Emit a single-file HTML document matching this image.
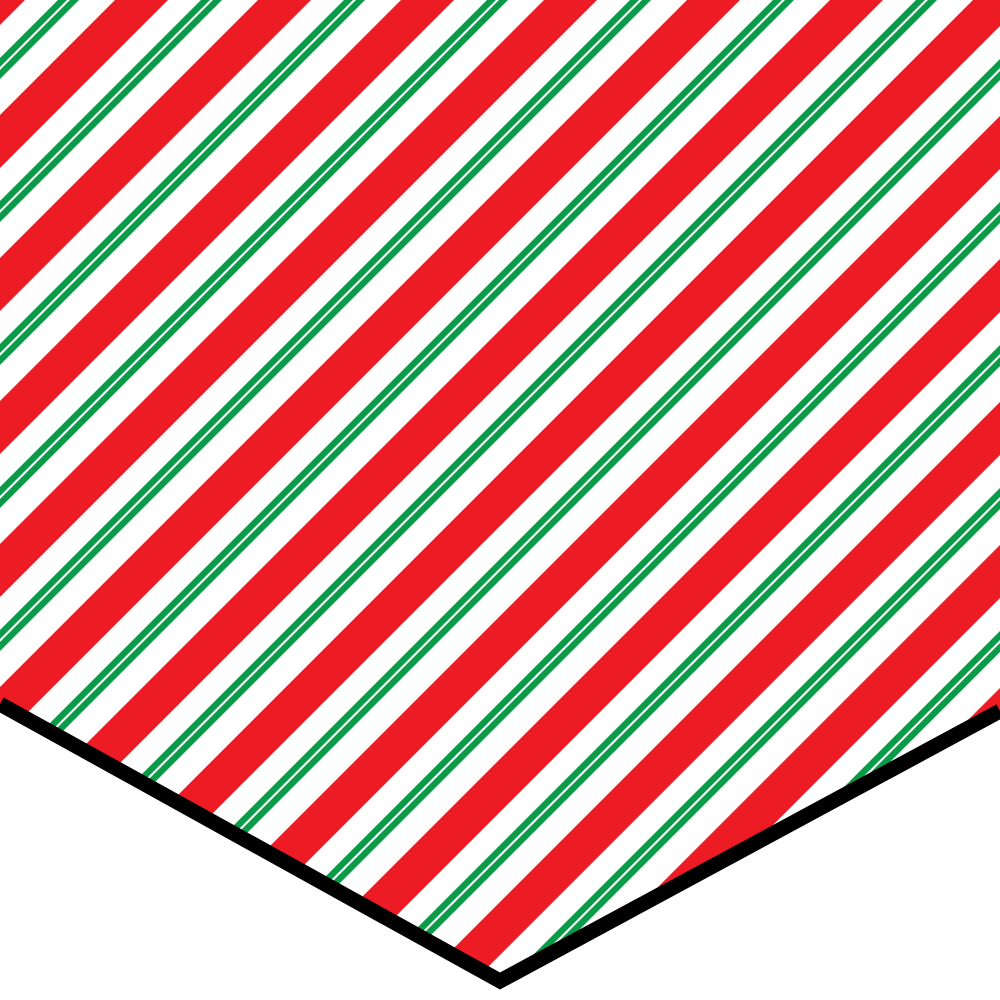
<!DOCTYPE html>
<html><head><meta charset="utf-8"><style>html,body{margin:0;padding:0;background:#fff}svg{display:block}</style></head>
<body>
<svg id="s" width="1000" height="1000" viewBox="0 0 1000 1000" xmlns="http://www.w3.org/2000/svg">
<defs><clipPath id="cp"><polygon points="0,0 1000,0 1000,711 500,981 0,704"/></clipPath></defs>
<rect width="1000" height="1000" fill="#fff"/>
<g id="stripes" clip-path="url(#cp)"></g>
<polyline points="0,704 500,981 1000,711" fill="none" stroke="#000" stroke-width="15" stroke-linejoin="miter"/>
</svg>
<script>
const period=143, phase=115;
const bands=[[0,53,'#ed1c24'],[86,95,'#0a9b48'],[98,107,'#0a9b48']];
const g=document.getElementById('stripes');
for(let k=-2;k<16;k++){
  const c0=phase+period*k;
  bands.forEach(b=>{
    const a=c0+b[0], e=c0+b[1];
    const p=document.createElementNS('http://www.w3.org/2000/svg','polygon');
    p.setAttribute('points',`${a},0 ${e},0 ${e-1200},1200 ${a-1200},1200`);
    p.setAttribute('fill',b[2]);
    
    
    g.appendChild(p);
  });
}
</script>
</body></html>
